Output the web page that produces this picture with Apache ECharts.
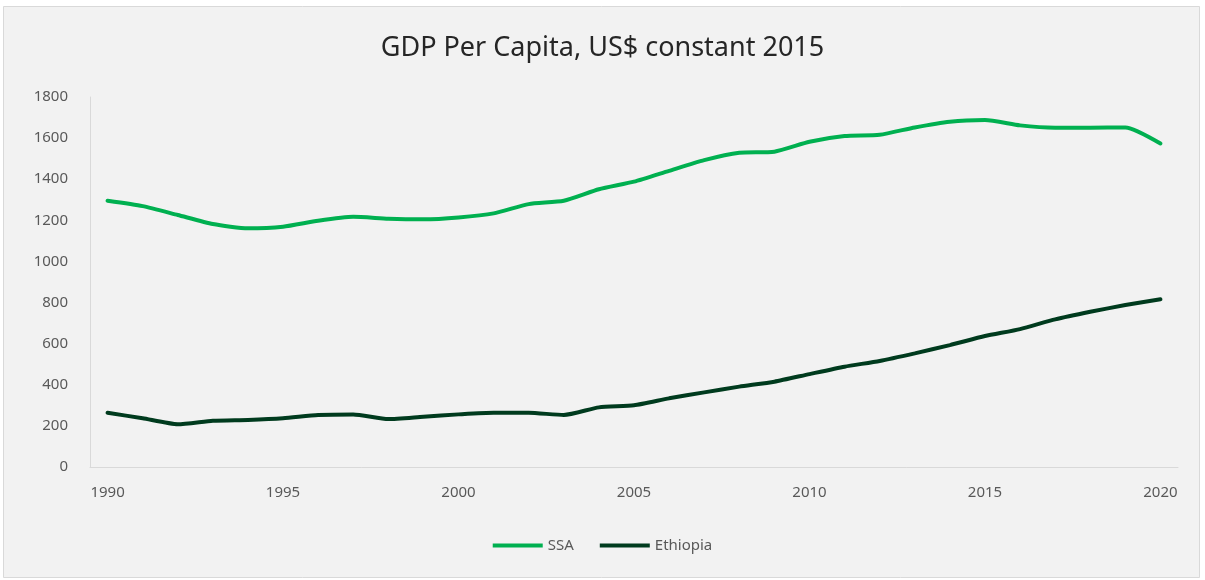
<!DOCTYPE html>
<html>
<head>
<meta charset="utf-8">
<script src="https://cdn.jsdelivr.net/npm/echarts@6/dist/echarts.min.js"></script>
<style>
  html, body { margin: 0; padding: 0; background: #fff; }
  #chart { width: 1205px; height: 580px; }
</style>
</head>
<body>
<div id="chart"></div>
<script>
// 年份
var years = [];
for (var y = 1990; y <= 2020; y++) years.push(String(y));

// 撒哈拉以南非洲
var ssaData = [1295, 1269, 1226, 1182, 1161, 1169, 1198, 1217, 1208, 1205,
  1214, 1234, 1279, 1295, 1351, 1388, 1441, 1493, 1529, 1534,
  1582, 1610, 1616, 1652, 1680, 1688, 1662, 1651, 1651, 1652, 1574]

// 埃塞俄比亚
var ethiopiaData = [264, 237, 208, 225, 229, 237, 253, 256, 233, 245,
  256, 264, 264, 253, 290, 300, 334, 363, 391, 415,
  452, 488, 516, 553, 593, 637, 671, 718, 755, 788, 816]

var chart = echarts.init(document.getElementById('chart'))

chart.setOption({
  backgroundColor: '#fff',
  graphic: [{
    type: 'rect',
    z: -10,
    shape: { x: 3.5, y: 6.5, width: 1196, height: 571 },
    style: { fill: '#f2f2f2', stroke: '#d9d9d9', lineWidth: 1 }
  }],
  title: {
    text: 'GDP Per Capita, US$ constant 2015',
    left: 'center',
    top: 30,
    textStyle: { fontFamily: 'Noto Sans', fontSize: 27, fontWeight: 'normal', color: '#262626' }
  },
  legend: {
    bottom: 22,
    left: 'center',
    itemWidth: 50,
    itemHeight: 4,
    itemGap: 26,
    icon: 'rect',
    textStyle: { fontFamily: 'Noto Sans', fontSize: 15, color: '#595959' },
    data: ['SSA', 'Ethiopia']
  },
  grid: { left: 90, right: 27, top: 97, bottom: 113 },
  xAxis: {
    type: 'category',
    data: years,
    boundaryGap: true,
    axisLine: { lineStyle: { color: '#d9d9d9', width: 1 } },
    axisTick: { show: false },
    axisLabel: {
      interval: 4,
      margin: 18,
      fontFamily: 'Noto Sans',
      fontSize: 15,
      color: '#595959'
    }
  },
  yAxis: {
    type: 'value',
    min: 0,
    max: 1800,
    interval: 200,
    axisLine: { show: true, lineStyle: { color: '#d9d9d9', width: 1 } },
    axisTick: { show: false },
    splitLine: { show: false },
    axisLabel: {
      margin: 22,
      fontFamily: 'Noto Sans',
      fontSize: 15,
      color: '#595959',
      formatter: function (v) { return String(v) }
    }
  },
  series: [
    {
      name: 'SSA',
      type: 'line',
      data: ssaData,
      symbol: 'none',
      smooth: 0.2,
      itemStyle: { color: '#00b050' },
      lineStyle: { color: '#00b050', width: 4, cap: 'round' }
    },
    {
      name: 'Ethiopia',
      type: 'line',
      data: ethiopiaData,
      symbol: 'none',
      smooth: 0.2,
      itemStyle: { color: '#003b1e' },
      lineStyle: { color: '#003b1e', width: 4, cap: 'round' }
    }
  ]
})
</script>
</body>
</html>
